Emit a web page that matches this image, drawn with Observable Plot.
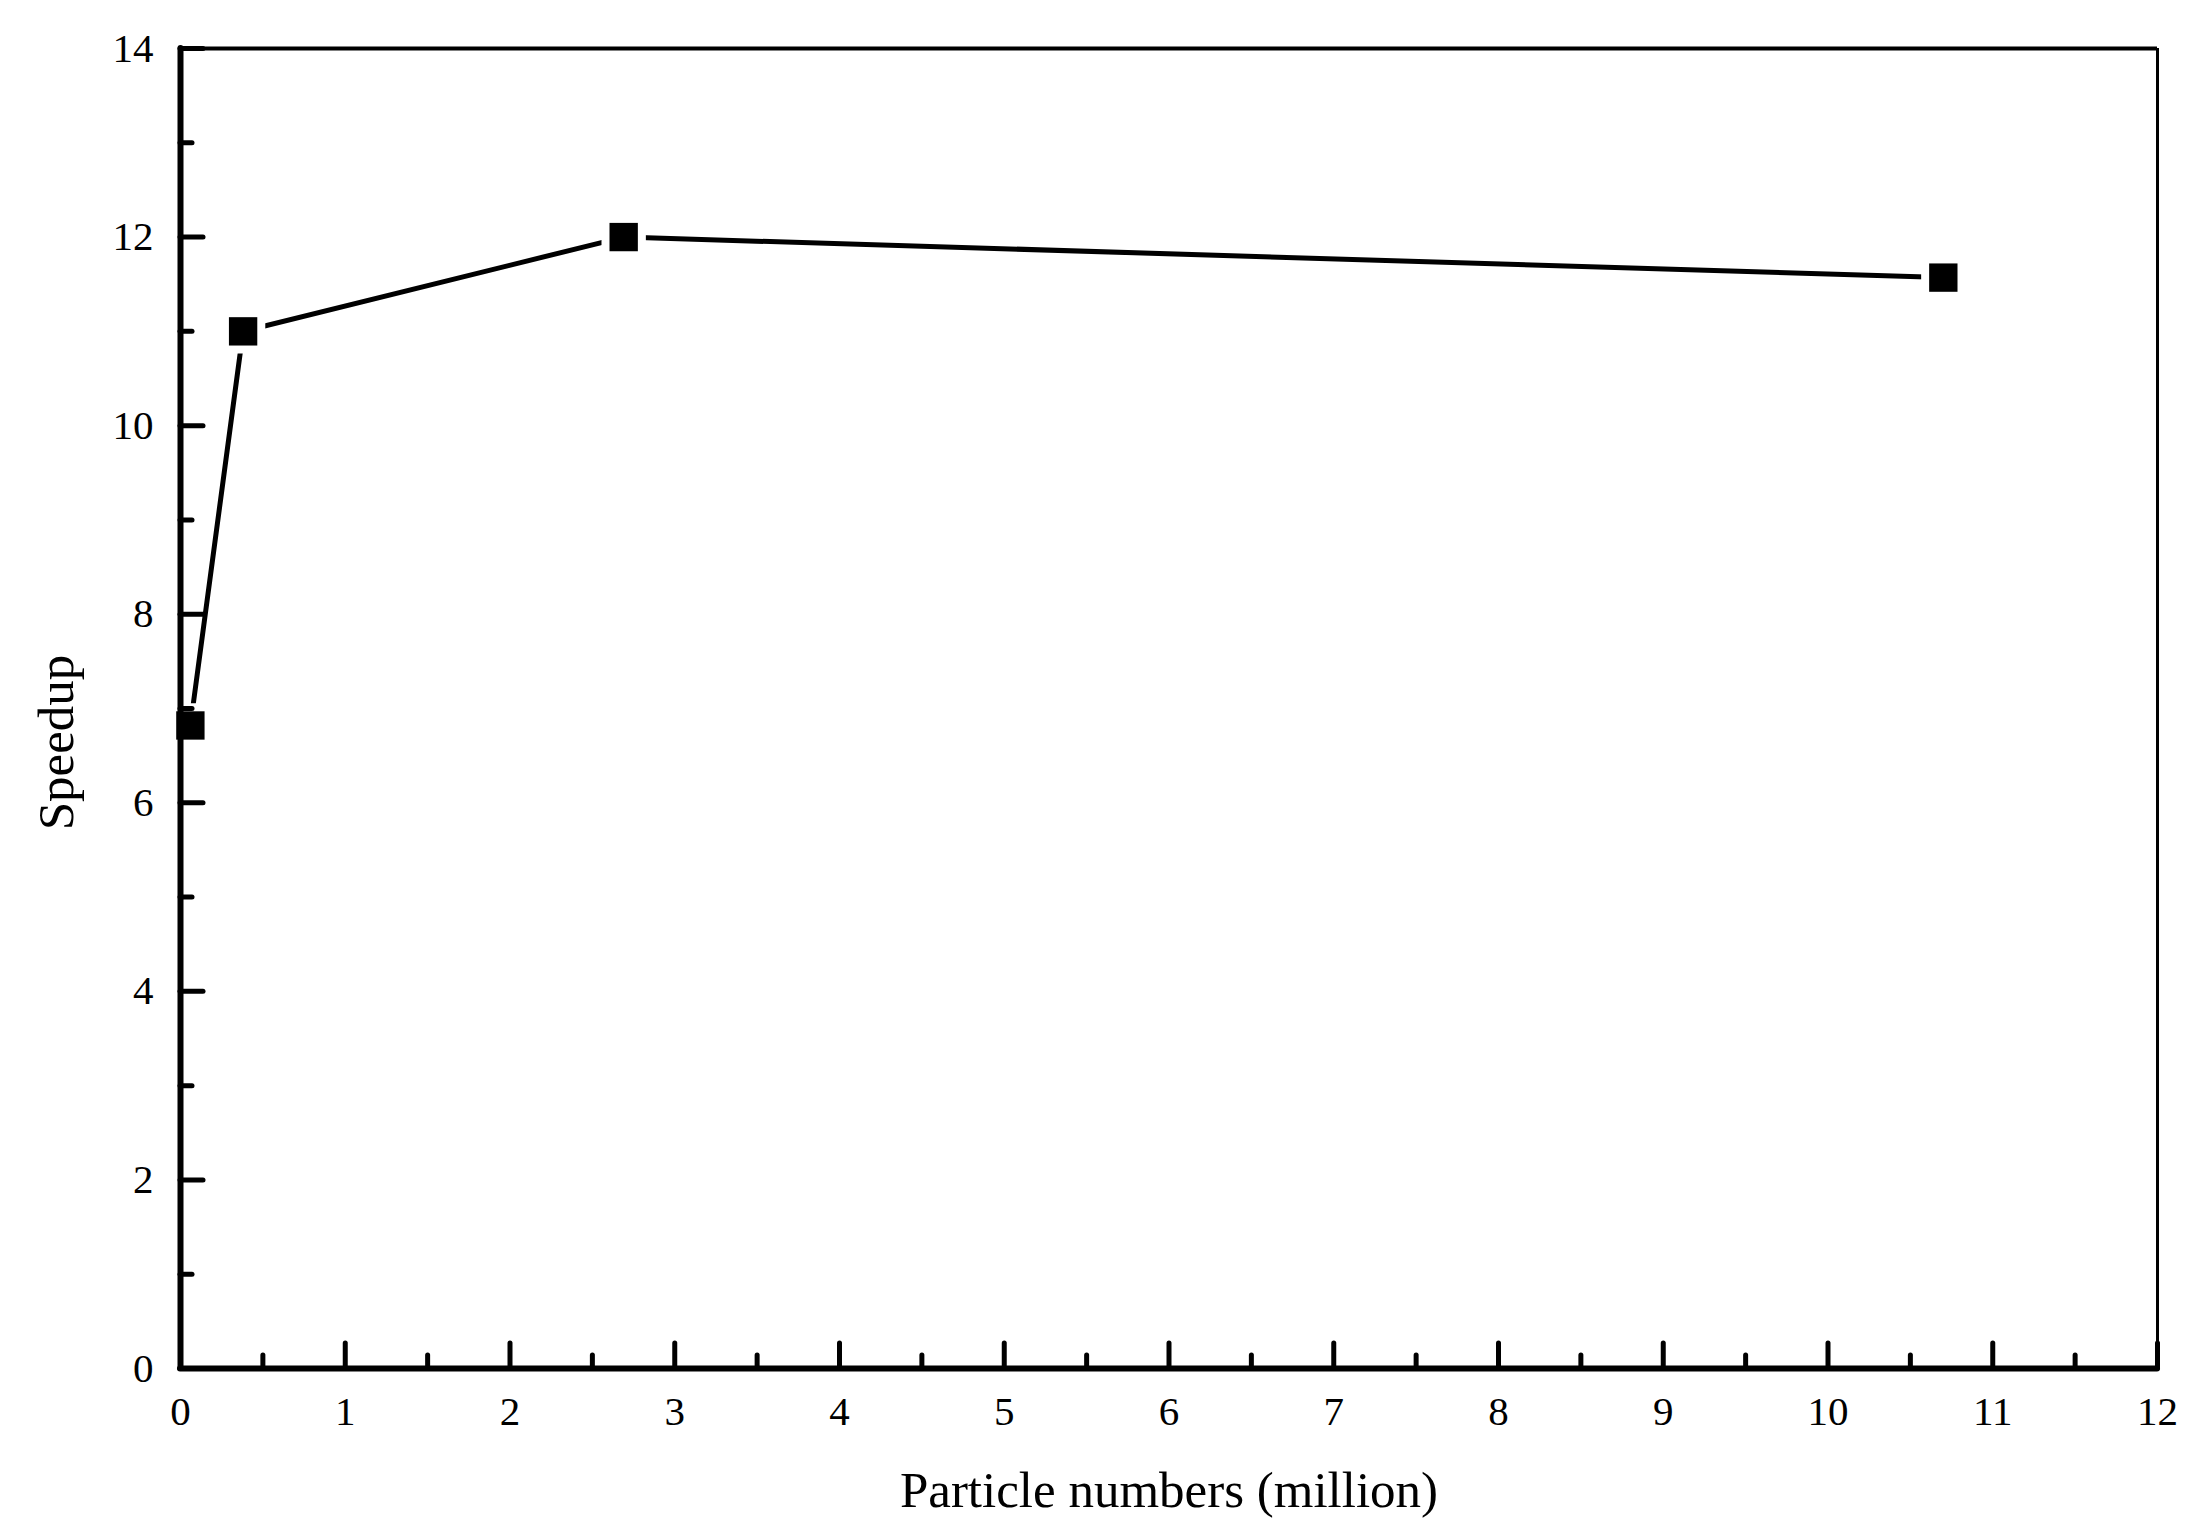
<!DOCTYPE html>
<html>
<head>
<meta charset="utf-8">
<script src="https://cdn.jsdelivr.net/npm/d3@7"></script>
<script src="https://cdn.jsdelivr.net/npm/@observablehq/plot@0.6"></script>
<style>
  html, body { margin: 0; padding: 0; background: #fff; }
  #chart svg { display: block; }
</style>
</head>
<body>
<div id="chart"></div>
<script>
// Data
const particles = [0.06, 0.38, 2.69, 10.7];      // million
const speedup   = [6.82, 11.0, 12.0, 11.57];

const xMajor = [0, 1, 2, 3, 4, 5, 6, 7, 8, 9, 10, 11, 12];
const xMinor = [0.5, 1.5, 2.5, 3.5, 4.5, 5.5, 6.5, 7.5, 8.5, 9.5, 10.5, 11.5];
const yMajor = [0, 2, 4, 6, 8, 10, 12, 14];
const yMinor = [1, 3, 5, 7, 9, 11, 13];

const xTitle = "Particle numbers (million)";
const yTitle = "Speedup";

const data = particles.map((x, i) => ({x, y: speedup[i]}));

const W = 2207, H = 1534;
const mL = 180, mR = 50, mT = 48, mB = 166;
const pw = W - mL - mR, ph = H - mT - mB;
const font = "'Liberation Serif', 'Times New Roman', serif";

const chart = Plot.plot({
  width: W,
  height: H,
  marginLeft: mL,
  marginRight: mR,
  marginTop: mT,
  marginBottom: mB,
  style: {fontFamily: font, background: "#fff", color: "#000"},
  x: {domain: [0, 12], axis: null},
  y: {domain: [0, 14], axis: null},
  marks: [
    Plot.line(data, {x: "x", y: "y", stroke: "#000", strokeWidth: 5, strokeLinejoin: "round", strokeLinecap: "round"}),
    Plot.dot(data, {x: "x", y: "y", symbol: "square", r: 16, fill: "#000", stroke: "#fff", strokeWidth: 16, paintOrder: "stroke"}),
    // ticks (inward)
    Plot.tickX(xMajor, {x: d => d, stroke: "#000", strokeWidth: 5, strokeLinecap: "round", insetTop: ph - 25}),
    Plot.tickX(xMinor, {x: d => d, stroke: "#000", strokeWidth: 5, strokeLinecap: "round", insetTop: ph - 13}),
    Plot.tickY(yMajor, {y: d => d, stroke: "#000", strokeWidth: 5, strokeLinecap: "round", insetRight: pw - 23}),
    Plot.tickY(yMinor, {y: d => d, stroke: "#000", strokeWidth: 5, strokeLinecap: "round", insetRight: pw - 12}),
    // frame
    Plot.ruleY([14], {stroke: "#000", strokeWidth: 4}),
    Plot.ruleX([12], {stroke: "#000", strokeWidth: 3}),
    Plot.ruleX([0], {stroke: "#000", strokeWidth: 6, strokeLinecap: "round"}),
    Plot.ruleY([0], {stroke: "#000", strokeWidth: 6, strokeLinecap: "round"}),
    // tick labels
    Plot.axisX({ticks: xMajor, tickSize: 0, tickPadding: 27, fontSize: 41, tickFormat: d => String(d), label: null}),
    Plot.axisY({ticks: yMajor, tickSize: 0, tickPadding: 27, fontSize: 41, tickFormat: d => String(d), label: null}),
    // axis titles
    Plot.text([xTitle], {text: d => d, frameAnchor: "bottom", dy: 122, fontSize: 51, lineAnchor: "middle", textAnchor: "middle", fill: "#000"}),
    Plot.text([yTitle], {text: d => d, frameAnchor: "left", dx: -124, dy: 34, rotate: -90, fontSize: 51, lineAnchor: "middle", textAnchor: "middle", fill: "#000"})
  ]
});
document.getElementById("chart").append(chart);
</script>
</body>
</html>
